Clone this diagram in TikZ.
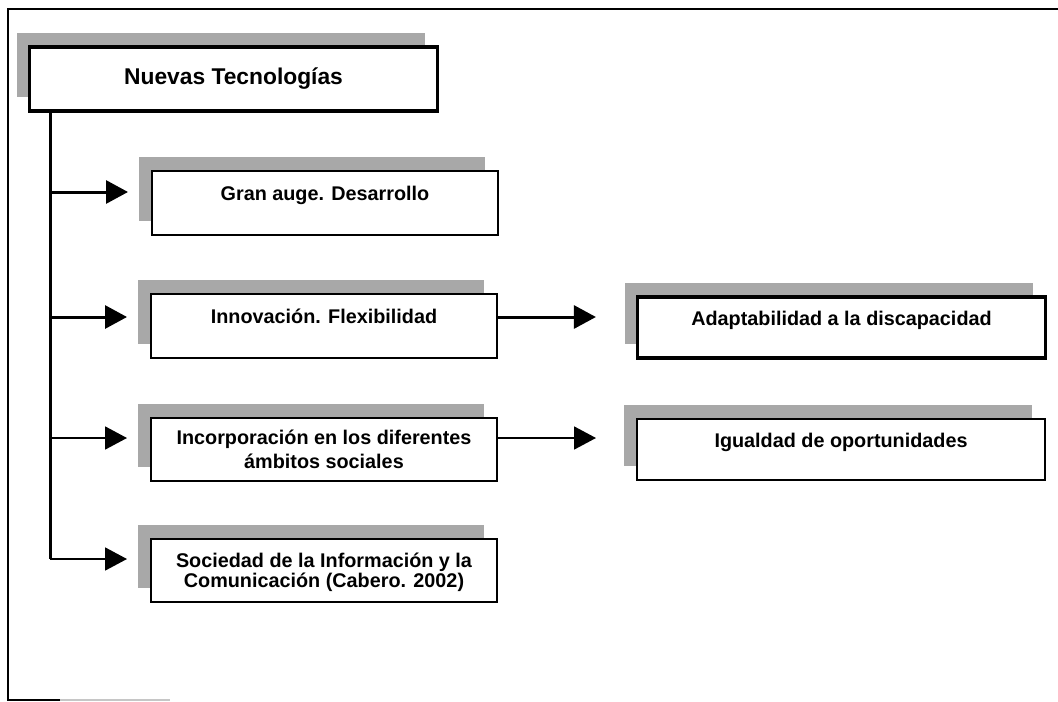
\documentclass[tikz,border=0pt]{standalone}
\usepackage{fontspec}
\setmainfont{Liberation Sans}
\usetikzlibrary{arrows.meta, shadows}

\definecolor{shadowgray}{gray}{0.66}

\begin{document}
\begin{tikzpicture}[x=0.5pt, y=-0.5pt, >={Triangle[length=11pt, width=11.5pt]},
        box/.style={draw, fill=white, line width=1pt, inner sep=0pt,
            minimum width=173pt, minimum height=31.5pt, align=center,
            font=\fontsize{9.9}{12}\selectfont\bfseries,
            general shadow={draw=none, fill=shadowgray, shadow xshift=-6.5pt, shadow yshift=7pt}},
        oneline/.style={text height=7pt, text depth=9.5pt},
        wide/.style={minimum width=204pt},
        heavy/.style={line width=1.6pt},
        thickarrow/.style={->, line width=1.5pt},
        thinarrow/.style={->, line width=0.9pt}]

        % page frame
        \useasboundingbox (0,0) rectangle (1058,701);
        \draw[line width=0.75pt] (1058,9) -- (8,9) -- (8,700) -- (60,700);
        \draw[line width=0.75pt, gray!45] (60,700) -- (170,700);

        % boxes
        \node[box, wide, heavy, minimum height=32pt, font=\fontsize{11.4}{13}\selectfont\bfseries] (nt) at (233.5,79) {Nuevas Tecnologías};
        \node[box, oneline, minimum height=32pt] (gran) at (325,203) {Gran auge. Desarrollo};
        \node[box, oneline, minimum height=32pt] (innov) at (324,326) {Innovación. Flexibilidad};
        \node[box] (incorp) at (324,449) {Incorporación en los diferentes\\ámbitos sociales};
        \node[box, minimum height=31.5pt, font=\fontsize{9.9}{10}\selectfont\bfseries] (soc) at (324,570.5) {\rule{0pt}{9pt}Sociedad de la Información y la\\Comunicación (Cabero. 2002)};
        \node[box, oneline, wide, heavy, minimum height=30.5pt] (adapt) at (841.5,327.5) {Adaptabilidad a la discapacidad};
        \node[box, oneline, wide, minimum height=30.5pt] (igual) at (841,449.5) {Igualdad de oportunidades};

        % trunk
        \coordinate (t1) at (50,192);
        \coordinate (t2) at (50,317);
        \coordinate (t3) at (50,438);
        \coordinate (t4) at (50,559);
        \draw[line width=1.5pt] (nt.south -| t4) -- (t4);

        % arrows
        \draw[thickarrow] (t1) -- ([xshift=-11.5pt]gran.west |- t1);
        \draw[thickarrow] (t2) -- ([xshift=-11.5pt]innov.west |- t2);
        \draw[thinarrow] (t3) -- ([xshift=-11.5pt]incorp.west |- t3);
        \draw[thinarrow] (t4) -- ([xshift=-11.5pt]soc.west |- t4);
        \draw[thickarrow] (innov.east |- t2) -- ([xshift=-20pt]adapt.west |- t2);
        \draw[thinarrow] (incorp.east |- t3) -- ([xshift=-20pt]igual.west |- t3);
\end{tikzpicture}
\end{document}
